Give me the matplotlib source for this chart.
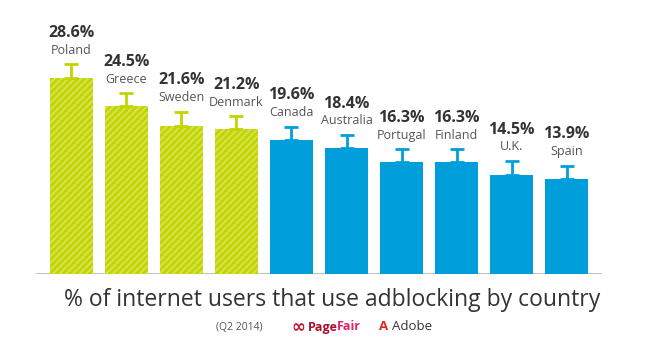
import matplotlib
matplotlib.use("Agg")
from matplotlib import pyplot as plt

countries = ['Poland', 'Greece', 'Sweden', 'Denmark', 'Canada',
             'Australia', 'Portugal', 'Finland', 'U.K.', 'Spain']
share = [28.6, 24.5, 21.6, 21.2, 19.6, 18.4, 16.3, 16.3, 14.5, 13.9]
err = [2.0, 1.9, 2.1, 1.8, 1.9, 1.9, 1.9, 1.9, 2.0, 1.9]
pct_labels = ['28.6%', '24.5%', '21.6%', '21.2%', '19.6%',
              '18.4%', '16.3%', '16.3%', '14.5%', '13.9%']

green = '#c2d500'
green_hatch = '#d8e45c'
blue = '#009fdb'
colors = [green] * 4 + [blue] * 6
edges = [green_hatch] * 4 + [blue] * 6
hatches = ['/////'] * 4 + [''] * 6

plt.rcParams['font.family'] = ['Open Sans', 'DejaVu Sans']
plt.rcParams['hatch.linewidth'] = 1.2

fig = plt.figure(figsize=(6.65, 3.62), dpi=100)
ax = fig.add_axes([36 / 665, 88 / 362, 566 / 665, 250 / 362])

x = range(len(countries))
for i in x:
    ax.bar(i, share[i], width=0.78, color=colors[i], edgecolor=edges[i],
           hatch=hatches[i], linewidth=0, zorder=2)
    ax.errorbar(i, share[i], yerr=[[0], [err[i]]], color=colors[i],
                capsize=5, capthick=2, elinewidth=2, zorder=3)
    top = share[i] + err[i]
    ax.text(i, top + 1.1, countries[i], ha='center', va='bottom',
            fontsize=9, color='#555555')
    ax.text(i, top + 3.4, pct_labels[i], ha='center', va='bottom',
            fontsize=11.5, fontweight='bold', color='#333333')

ax.axhline(0, color='#bbbbbb', linewidth=2, zorder=1)
ax.set_xlim(-0.645, 9.645)
ax.set_ylim(0, 250 / 6.85)
ax.axis('off')

fig.text(332 / 665, 1 - 300 / 362, '% of internet users that use adblocking by country',
         ha='center', va='center', fontsize=16.5, color='#333333')
fig.text(239 / 665, 1 - 327 / 362, '(Q2 2014)', ha='center', va='center',
         fontsize=7.5, color='#555555')
# logos approximated with text
fig.text(298 / 665, 1 - 327 / 362, '\u221e', ha='center', va='center',
         fontsize=12, fontweight='bold', color='#c8102e', family='DejaVu Sans')
fig.text(308 / 665, 1 - 327 / 362, 'Page', ha='left', va='center',
         fontsize=9, fontweight='bold', color='#a8102e')
fig.text(337 / 665, 1 - 327 / 362, 'Fair', ha='left', va='center',
         fontsize=9, fontweight='bold', color='#e0245e')
fig.text(384 / 665, 1 - 327 / 362, 'A', ha='center', va='center',
         fontsize=9.5, fontweight='bold', color='#e1261c')
fig.text(392 / 665, 1 - 327 / 362, 'Adobe', ha='left', va='center',
         fontsize=9.5, color='#333333')

fig.savefig('out.png', dpi=100)
